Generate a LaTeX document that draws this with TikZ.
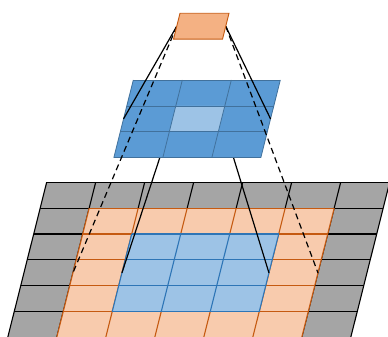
\documentclass[tikz,border=0pt]{standalone}
\definecolor{padgray}{RGB}{165,165,165}
\definecolor{padfill}{RGB}{248,203,173}
\definecolor{padline}{RGB}{197,90,17}
\definecolor{infill}{RGB}{157,195,230}
\definecolor{inblue}{RGB}{46,117,182}
\definecolor{mapfill}{RGB}{91,155,213}
\definecolor{mapline}{RGB}{65,113,156}
\definecolor{kernfill}{RGB}{244,177,131}
\tikzset{
	cellgrid/.style={x={(49pt,0pt)}, y={(-6.5pt,-25.9pt)}},
	grayedge/.style={draw=black, line width=1.1pt},
	padedge/.style={draw=padline, line width=1.1pt},
	inedge/.style={draw=inblue, line width=1.1pt},
	mapedge/.style={draw=mapline, line width=0.8pt},
	link/.style={draw=black, line width=1.2pt},
	dashlink/.style={draw=black, line width=1.2pt, dash pattern=on 6pt off 4pt},
}
\begin{document}
\begin{tikzpicture}
	\useasboundingbox (0pt,0pt) rectangle (388pt,-337pt);
	\clip (0pt,0pt) rectangle (388pt,-337pt);
	% padded input
	\begin{scope}[shift={(46.7pt,-182.2pt)}, cellgrid]
		\fill[padgray] (0,0) -- (7,0) -- (7,7) -- (0,7) -- cycle;
		\foreach \i in {0,...,7} \draw[grayedge] (\i,0) -- (\i,7);
		\foreach \j in {0,...,7} \draw[grayedge] (0,\j) -- (7,\j);
		\fill[padfill] (1,1) -- (6,1) -- (6,7) -- (1,7) -- cycle;
		\foreach \i in {1,...,6} \draw[padedge] (\i,1) -- (\i,7);
		\foreach \j in {1,...,7} \draw[padedge] (1,\j) -- (6,\j);
		\fill[infill] (2,2) -- (5,2) -- (5,5) -- (2,5) -- cycle;
		\foreach \i in {2,...,5} \draw[inedge] (\i,2) -- (\i,5);
		\foreach \j in {2,...,5} \draw[inedge] (2,\j) -- (5,\j);
		\coordinate (pad-l) at (1,3.5);
		\coordinate (pad-r) at (6,3.5);
		\coordinate (in-l) at (2,3.5);
		\coordinate (in-r) at (5,3.5);
	\end{scope}
	% feature map
	\begin{scope}[shift={(133.3pt,-80pt)}, cellgrid]
		\coordinate (map-l) at (0,1.5);
		\coordinate (map-r) at (3,1.5);
		\coordinate (ctr-l) at (1,1.5);
		\coordinate (ctr-r) at (2,1.5);
		\draw[link] (ctr-l) -- (in-l);
		\draw[link] (ctr-r) -- (in-r);
		\fill[mapfill] (0,0) -- (3,0) -- (3,3) -- (0,3) -- cycle;
		\fill[infill] (1,1) -- (2,1) -- (2,2) -- (1,2) -- cycle;
		\foreach \i in {0,...,3} \draw[mapedge] (\i,0) -- (\i,3);
		\foreach \j in {0,...,3} \draw[mapedge] (0,\j) -- (3,\j);
	\end{scope}
	% output cell
	\begin{scope}[shift={(180pt,-13.3pt)}, cellgrid]
		\coordinate (kern-l) at (0,0.5);
		\coordinate (kern-r) at (1,0.5);
		\draw[link] (kern-l) -- (map-l);
		\draw[link] (kern-r) -- (map-r);
		\draw[dashlink] (kern-l) -- (pad-l);
		\draw[dashlink] (kern-r) -- (pad-r);
		\filldraw[fill=kernfill, draw=padline, line width=0.9pt] (0,0) -- (1,0) -- (1,1) -- (0,1) -- cycle;
	\end{scope}
\end{tikzpicture}
\end{document}
